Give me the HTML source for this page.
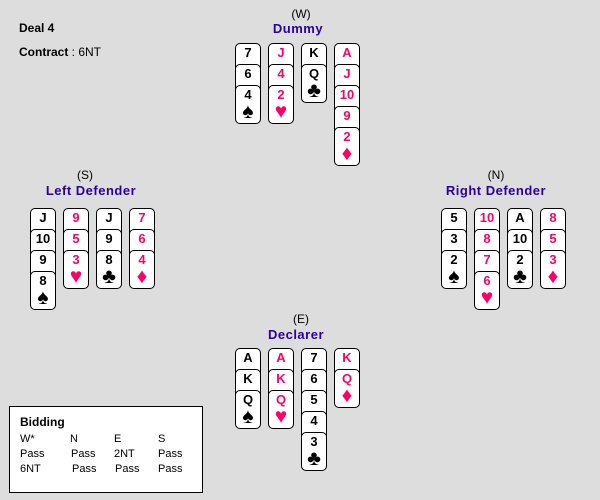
<!DOCTYPE html>
<html><head><style>
body{margin:0;width:600px;height:500px;background:#dddddd;position:relative;overflow:hidden;font-family:"Liberation Sans",sans-serif;}
.c{position:absolute;box-sizing:border-box;width:26px;height:39px;border:1px solid #000;border-radius:5px;background:#fff;text-align:center;font:bold 13px "Liberation Sans",sans-serif;line-height:12px;padding-top:3px;color:#000;}
.r{color:#ff0066;}
.s{display:block;font-size:21px;line-height:18px;margin-top:2px;}
.t{position:absolute;font-size:12px;color:#000;text-align:center;width:200px;}
.n{position:absolute;font-weight:bold;font-size:13px;color:#2a00a0;text-align:center;width:200px;letter-spacing:0.5px;}
.b{position:absolute;font-size:11px;}
</style></head><body>
<div style="position:absolute;left:19px;top:21px;font-weight:bold;font-size:12px;">Deal 4</div>
<div style="position:absolute;left:19px;top:45px;font-weight:bold;font-size:12px;">Contract <span style="font-weight:normal">: 6NT</span></div>

<div class="t" style="left:201px;top:7px">(W)</div>
<div class="n" style="left:198px;top:21px">Dummy</div>
<div class="t" style="left:-15px;top:168px">(S)</div>
<div class="n" style="left:-9px;top:183px">Left Defender</div>
<div class="t" style="left:396px;top:168px">(N)</div>
<div class="n" style="left:396px;top:183px">Right Defender</div>
<div class="t" style="left:201px;top:312px">(E)</div>
<div class="n" style="left:196px;top:327px">Declarer</div>

<!-- Dummy -->
<div class="c" style="left:235px;top:43px">7</div>
<div class="c" style="left:235px;top:64px">6</div>
<div class="c" style="left:235px;top:85px">4<span class="s">♠</span></div>
<div class="c r" style="left:268px;top:43px">J</div>
<div class="c r" style="left:268px;top:64px">4</div>
<div class="c r" style="left:268px;top:85px">2<span class="s">♥</span></div>
<div class="c" style="left:301px;top:43px">K</div>
<div class="c" style="left:301px;top:64px">Q<span class="s">♣</span></div>
<div class="c r" style="left:334px;top:43px">A</div>
<div class="c r" style="left:334px;top:64px">J</div>
<div class="c r" style="left:334px;top:85px">10</div>
<div class="c r" style="left:334px;top:106px">9</div>
<div class="c r" style="left:334px;top:127px">2<span class="s">♦</span></div>

<!-- Left defender -->
<div class="c" style="left:30px;top:208px">J</div>
<div class="c" style="left:30px;top:229px">10</div>
<div class="c" style="left:30px;top:250px">9</div>
<div class="c" style="left:30px;top:271px">8<span class="s">♠</span></div>
<div class="c r" style="left:63px;top:208px">9</div>
<div class="c r" style="left:63px;top:229px">5</div>
<div class="c r" style="left:63px;top:250px">3<span class="s">♥</span></div>
<div class="c" style="left:96px;top:208px">J</div>
<div class="c" style="left:96px;top:229px">9</div>
<div class="c" style="left:96px;top:250px">8<span class="s">♣</span></div>
<div class="c r" style="left:129px;top:208px">7</div>
<div class="c r" style="left:129px;top:229px">6</div>
<div class="c r" style="left:129px;top:250px">4<span class="s">♦</span></div>

<!-- Right defender -->
<div class="c" style="left:441px;top:208px">5</div>
<div class="c" style="left:441px;top:229px">3</div>
<div class="c" style="left:441px;top:250px">2<span class="s">♠</span></div>
<div class="c r" style="left:474px;top:208px">10</div>
<div class="c r" style="left:474px;top:229px">8</div>
<div class="c r" style="left:474px;top:250px">7</div>
<div class="c r" style="left:474px;top:271px">6<span class="s">♥</span></div>
<div class="c" style="left:507px;top:208px">A</div>
<div class="c" style="left:507px;top:229px">10</div>
<div class="c" style="left:507px;top:250px">2<span class="s">♣</span></div>
<div class="c r" style="left:540px;top:208px">8</div>
<div class="c r" style="left:540px;top:229px">5</div>
<div class="c r" style="left:540px;top:250px">3<span class="s">♦</span></div>

<!-- Declarer -->
<div class="c" style="left:235px;top:348px">A</div>
<div class="c" style="left:235px;top:369px">K</div>
<div class="c" style="left:235px;top:390px">Q<span class="s">♠</span></div>
<div class="c r" style="left:268px;top:348px">A</div>
<div class="c r" style="left:268px;top:369px">K</div>
<div class="c r" style="left:268px;top:390px">Q<span class="s">♥</span></div>
<div class="c" style="left:301px;top:348px">7</div>
<div class="c" style="left:301px;top:369px">6</div>
<div class="c" style="left:301px;top:390px">5</div>
<div class="c" style="left:301px;top:411px">4</div>
<div class="c" style="left:301px;top:432px">3<span class="s">♣</span></div>
<div class="c r" style="left:334px;top:348px">K</div>
<div class="c r" style="left:334px;top:369px">Q<span class="s">♦</span></div>

<!-- Bidding -->
<div style="position:absolute;left:9px;top:406px;width:194px;height:87px;box-sizing:border-box;border:1px solid #000;background:#fff;"></div>
<div style="position:absolute;left:20px;top:415px;font-weight:bold;font-size:12px;">Bidding</div>
<div class="b" style="left:20px;top:433px">W*</div>
<div class="b" style="left:70px;top:433px">N</div>
<div class="b" style="left:114px;top:433px">E</div>
<div class="b" style="left:158px;top:433px">S</div>
<div class="b" style="left:20px;top:448px">Pass</div>
<div class="b" style="left:71px;top:448px">Pass</div>
<div class="b" style="left:114px;top:448px">2NT</div>
<div class="b" style="left:158px;top:448px">Pass</div>
<div class="b" style="left:20px;top:463px">6NT</div>
<div class="b" style="left:72px;top:463px">Pass</div>
<div class="b" style="left:115px;top:463px">Pass</div>
<div class="b" style="left:158px;top:463px">Pass</div>
</body></html>
